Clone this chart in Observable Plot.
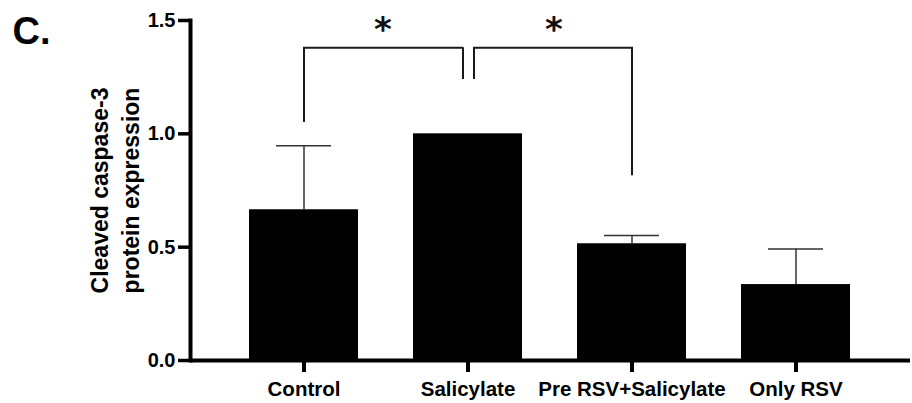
<!DOCTYPE html>
<html>
<head>
<meta charset="utf-8">
<script src="https://cdn.jsdelivr.net/npm/d3@7"></script>
<script src="https://cdn.jsdelivr.net/npm/@observablehq/plot@0.6"></script>
<style>
  body { margin: 0; background: #fff; }
  #chart svg { font-family: "Liberation Sans", Arial, sans-serif; }
</style>
</head>
<body>
<div id="chart"></div>
<script>
// ---- data ----
const groups = ["Control", "Salicylate", "Pre RSV+Salicylate", "Only RSV"];
const means  = [0.665, 1.0, 0.515, 0.335];
const errors = [0.282, 0, 0.037, 0.157];
const yTicks = [0, 0.5, 1.0, 1.5];
const yLabel = "Cleaved caspase-3\nprotein expression";
const panelLabel = "C.";

// significance brackets: horizontal at `top`, legs down to `left` / `right`
const bracketFrom  = ["Control", "Salicylate"];
const bracketTo    = ["Salicylate", "Pre RSV+Salicylate"];
const bracketTop   = [1.38, 1.38];
const bracketLeft  = [1.05, 1.24];
const bracketRight = [1.24, 0.815];
const bracketStar  = ["*", "*"];
const starLevel = 1.49;

const data = groups.map((g, i) => ({group: g, mean: means[i], err: errors[i], hi: means[i] + errors[i]}));
const withErr = data.filter(d => d.err > 0);
const brackets = bracketFrom.map((f, i) => ({
  from: f, to: bracketTo[i], top: bracketTop[i], left: bracketLeft[i], right: bracketRight[i], star: bracketStar[i], lvl: starLevel
}));

const lineColor = "#1a1a1a";
const bw = 2;

const plot = Plot.plot({
  width: 912,
  height: 403,
  marginLeft: 190,
  marginRight: 2,
  marginTop: 20,
  marginBottom: 43,
  style: {fontFamily: "'Liberation Sans', Arial, sans-serif", fontWeight: "bold", color: "#000", background: "#fff"},
  x: {domain: groups, paddingInner: 1/3, paddingOuter: 0.35, label: null},
  y: {domain: [0, 1.5], label: null},
  marks: [
    Plot.barY(data, {x: "group", y: "mean", fill: "#000"}),
    Plot.ruleX(withErr, {x: "group", y1: "mean", y2: "hi", stroke: "#333", strokeWidth: 1.5}),
    Plot.tickY(withErr, {x: "group", y: "hi", stroke: "#333", strokeWidth: 1.5, insetLeft: 27, insetRight: 27}),
    // axes
    Plot.ruleY([0], {stroke: "#000", strokeWidth: 4}),
    Plot.frame({anchor: "left", stroke: "#000", strokeWidth: 4}),
    Plot.axisY({ticks: yTicks, tickFormat: d3.format(".1f"), tickSize: 12, tickPadding: 3, strokeWidth: 3.5, fontSize: 20, fontWeight: "bold", label: null}),
    Plot.axisX({tickSize: 12, tickPadding: 9, strokeWidth: 4, fontSize: 20.5, fontWeight: "bold", label: null}),
    // y axis title
    Plot.text([yLabel], {frameAnchor: "left", rotate: -90, dx: -77, textAnchor: "middle", text: d => d, fontSize: 23, fontWeight: "bold", lineHeight: 1.33, fill: "#000"}),
    // panel label
    Plot.text([panelLabel], {frameAnchor: "top-left", text: d => d, dx: -178, dy: -3, textAnchor: "start", lineAnchor: "top", fontSize: 38, fontWeight: "bold", fontFamily: "'Liberation Sans Narrow', 'Liberation Sans', Arial, sans-serif", fill: "#000"}),
    // brackets: horizontal bars
    Plot.arrow(brackets.slice(0, 1), {x1: "from", x2: "to", y1: "top", y2: "top", headLength: 0, insetEnd: 6, stroke: lineColor, strokeWidth: bw, strokeLinecap: "square"}),
    Plot.arrow(brackets.slice(1, 2), {x1: "from", x2: "to", y1: "top", y2: "top", headLength: 0, insetStart: 6, stroke: lineColor, strokeWidth: bw, strokeLinecap: "square"}),
    // bracket legs
    Plot.ruleX(brackets.slice(0, 1), {x: "from", y1: "top", y2: "left", stroke: lineColor, strokeWidth: bw}),
    Plot.ruleX(brackets.slice(0, 1), {x: "to", y1: "top", y2: "right", dx: -5, stroke: lineColor, strokeWidth: bw}),
    Plot.ruleX(brackets.slice(1, 2), {x: "from", y1: "top", y2: "left", dx: 6, stroke: lineColor, strokeWidth: bw}),
    Plot.ruleX(brackets.slice(1, 2), {x: "to", y1: "top", y2: "right", stroke: lineColor, strokeWidth: bw}),
    // stars
    Plot.text(brackets.slice(0, 1), {x: "to", y: "lvl", text: "star", dx: -85, lineAnchor: "middle", dy: 7, fontSize: 34, fontWeight: "bold", fontFamily: "'DejaVu Sans', sans-serif", fill: "#111"}),
    Plot.text(brackets.slice(1, 2), {x: "from", y: "lvl", text: "star", dx: 86, lineAnchor: "middle", dy: 7, fontSize: 34, fontWeight: "bold", fontFamily: "'DejaVu Sans', sans-serif", fill: "#111"})
  ]
});
document.getElementById("chart").appendChild(plot);
</script>
</body>
</html>
